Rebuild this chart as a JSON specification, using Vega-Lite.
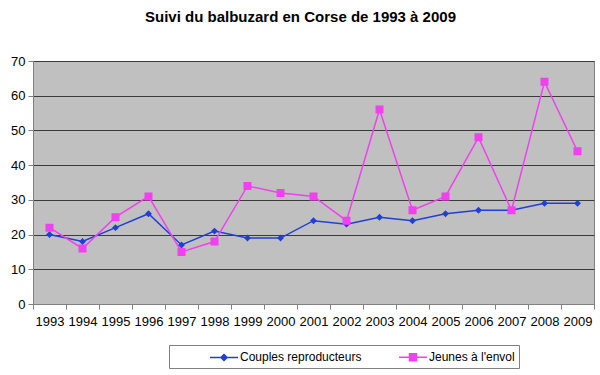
{
  "$schema": "https://vega.github.io/schema/vega-lite/v6.json",
  "width": 561,
  "height": 243,
  "autosize": {"type": "none"},
  "padding": {"left": 33, "top": 61, "right": 6, "bottom": 71},
  "background": "white",
  "title": {"text": "Suivi du balbuzard en Corse de 1993 à 2009", "font": "Liberation Sans", "fontSize": 15, "fontWeight": "bold", "color": "#000", "anchor": "middle", "offset": 30, "dx": -13},
  "config": {
    "view": {"fill": "#c0c0c0", "stroke": "#808080", "strokeWidth": 1},
    "font": "Liberation Sans"
  },
  "data": {"values": [
    {"year": "1993", "series": "Couples reproducteurs", "value": 20},
    {"year": "1994", "series": "Couples reproducteurs", "value": 18},
    {"year": "1995", "series": "Couples reproducteurs", "value": 22},
    {"year": "1996", "series": "Couples reproducteurs", "value": 26},
    {"year": "1997", "series": "Couples reproducteurs", "value": 17},
    {"year": "1998", "series": "Couples reproducteurs", "value": 21},
    {"year": "1999", "series": "Couples reproducteurs", "value": 19},
    {"year": "2000", "series": "Couples reproducteurs", "value": 19},
    {"year": "2001", "series": "Couples reproducteurs", "value": 24},
    {"year": "2002", "series": "Couples reproducteurs", "value": 23},
    {"year": "2003", "series": "Couples reproducteurs", "value": 25},
    {"year": "2004", "series": "Couples reproducteurs", "value": 24},
    {"year": "2005", "series": "Couples reproducteurs", "value": 26},
    {"year": "2006", "series": "Couples reproducteurs", "value": 27},
    {"year": "2007", "series": "Couples reproducteurs", "value": 27},
    {"year": "2008", "series": "Couples reproducteurs", "value": 29},
    {"year": "2009", "series": "Couples reproducteurs", "value": 29},
    {"year": "1993", "series": "Jeunes à l'envol", "value": 22},
    {"year": "1994", "series": "Jeunes à l'envol", "value": 16},
    {"year": "1995", "series": "Jeunes à l'envol", "value": 25},
    {"year": "1996", "series": "Jeunes à l'envol", "value": 31},
    {"year": "1997", "series": "Jeunes à l'envol", "value": 15},
    {"year": "1998", "series": "Jeunes à l'envol", "value": 18},
    {"year": "1999", "series": "Jeunes à l'envol", "value": 34},
    {"year": "2000", "series": "Jeunes à l'envol", "value": 32},
    {"year": "2001", "series": "Jeunes à l'envol", "value": 31},
    {"year": "2002", "series": "Jeunes à l'envol", "value": 24},
    {"year": "2003", "series": "Jeunes à l'envol", "value": 56},
    {"year": "2004", "series": "Jeunes à l'envol", "value": 27},
    {"year": "2005", "series": "Jeunes à l'envol", "value": 31},
    {"year": "2006", "series": "Jeunes à l'envol", "value": 48},
    {"year": "2007", "series": "Jeunes à l'envol", "value": 27},
    {"year": "2008", "series": "Jeunes à l'envol", "value": 64},
    {"year": "2009", "series": "Jeunes à l'envol", "value": 44}
  ]},
  "encoding": {
    "x": {"field": "year", "type": "ordinal", "scale": {"type": "band", "paddingInner": 0, "paddingOuter": 0},
      "axis": {"title": null, "labelAngle": 0, "tickBand": "extent", "grid": false, "domainColor": "#808080", "tickColor": "#808080", "tickSize": 5, "labelPadding": 6, "labelFontSize": 13, "labelColor": "#000", "labelFont": "Liberation Sans"}},
    "y": {"field": "value", "type": "quantitative", "scale": {"domain": [0, 70]},
      "axis": {"title": null, "values": [0,10,20,30,40,50,60,70], "grid": true, "gridColor": "#3a3a3a", "gridWidth": 1, "domainColor": "#808080", "tickColor": "#808080", "tickSize": 5, "labelPadding": 3, "labelFontSize": 13, "labelColor": "#000", "labelFont": "Liberation Sans"}}
  },
  "layer": [
    {
      "mark": {"type": "line", "strokeWidth": 1.5},
      "encoding": {
        "color": {"field": "series", "type": "nominal", "scale": {"domain": ["Couples reproducteurs", "Jeunes à l'envol"], "range": ["#1f3fd6", "#f040f0"]}}
      }
    },
    {
      "mark": {"type": "point", "filled": true, "opacity": 1, "size": 256, "strokeWidth": 0},
      "encoding": {
        "color": {"field": "series", "type": "nominal", "scale": {"domain": ["Couples reproducteurs", "Jeunes à l'envol"], "range": ["#1f3fd6", "#f040f0"]},
          "legend": {"title": null, "orient": "none", "legendX": 136, "legendY": 284, "direction": "horizontal", "columns": 2, "columnPadding": 0, "padding": 4, "strokeColor": "#808080", "fillColor": "white", "symbolSize": 196, "symbolStrokeWidth": 1.5, "symbolOpacity": 1, "symbolOffset": 43, "labelFontSize": 12, "labelFont": "Liberation Sans", "labelColor": "#000", "labelOffset": 8,
            "labelExpr": "datum.value === 'Couples reproducteurs' ? datum.label : datum.label + '\u00a0\u00a0\u00a0\u00a0\u00a0\u00a0\u00a0\u00a0\u00a0\u00a0\u00a0'",
            "encode": {"symbols": {"update": {"stroke": {"scale": "color", "field": "value"}, "strokeWidth": {"value": 1.5}}}}}},
        "shape": {"field": "series", "type": "nominal", "scale": {"domain": ["Couples reproducteurs", "Jeunes à l'envol"], "range": ["M-2,0H2M0,-0.43L0.43,0L0,0.43L-0.43,0Z", "M-2,0H2M-0.5,-0.5H0.5V0.5H-0.5Z"]}}
      }
    }
  ]
}
